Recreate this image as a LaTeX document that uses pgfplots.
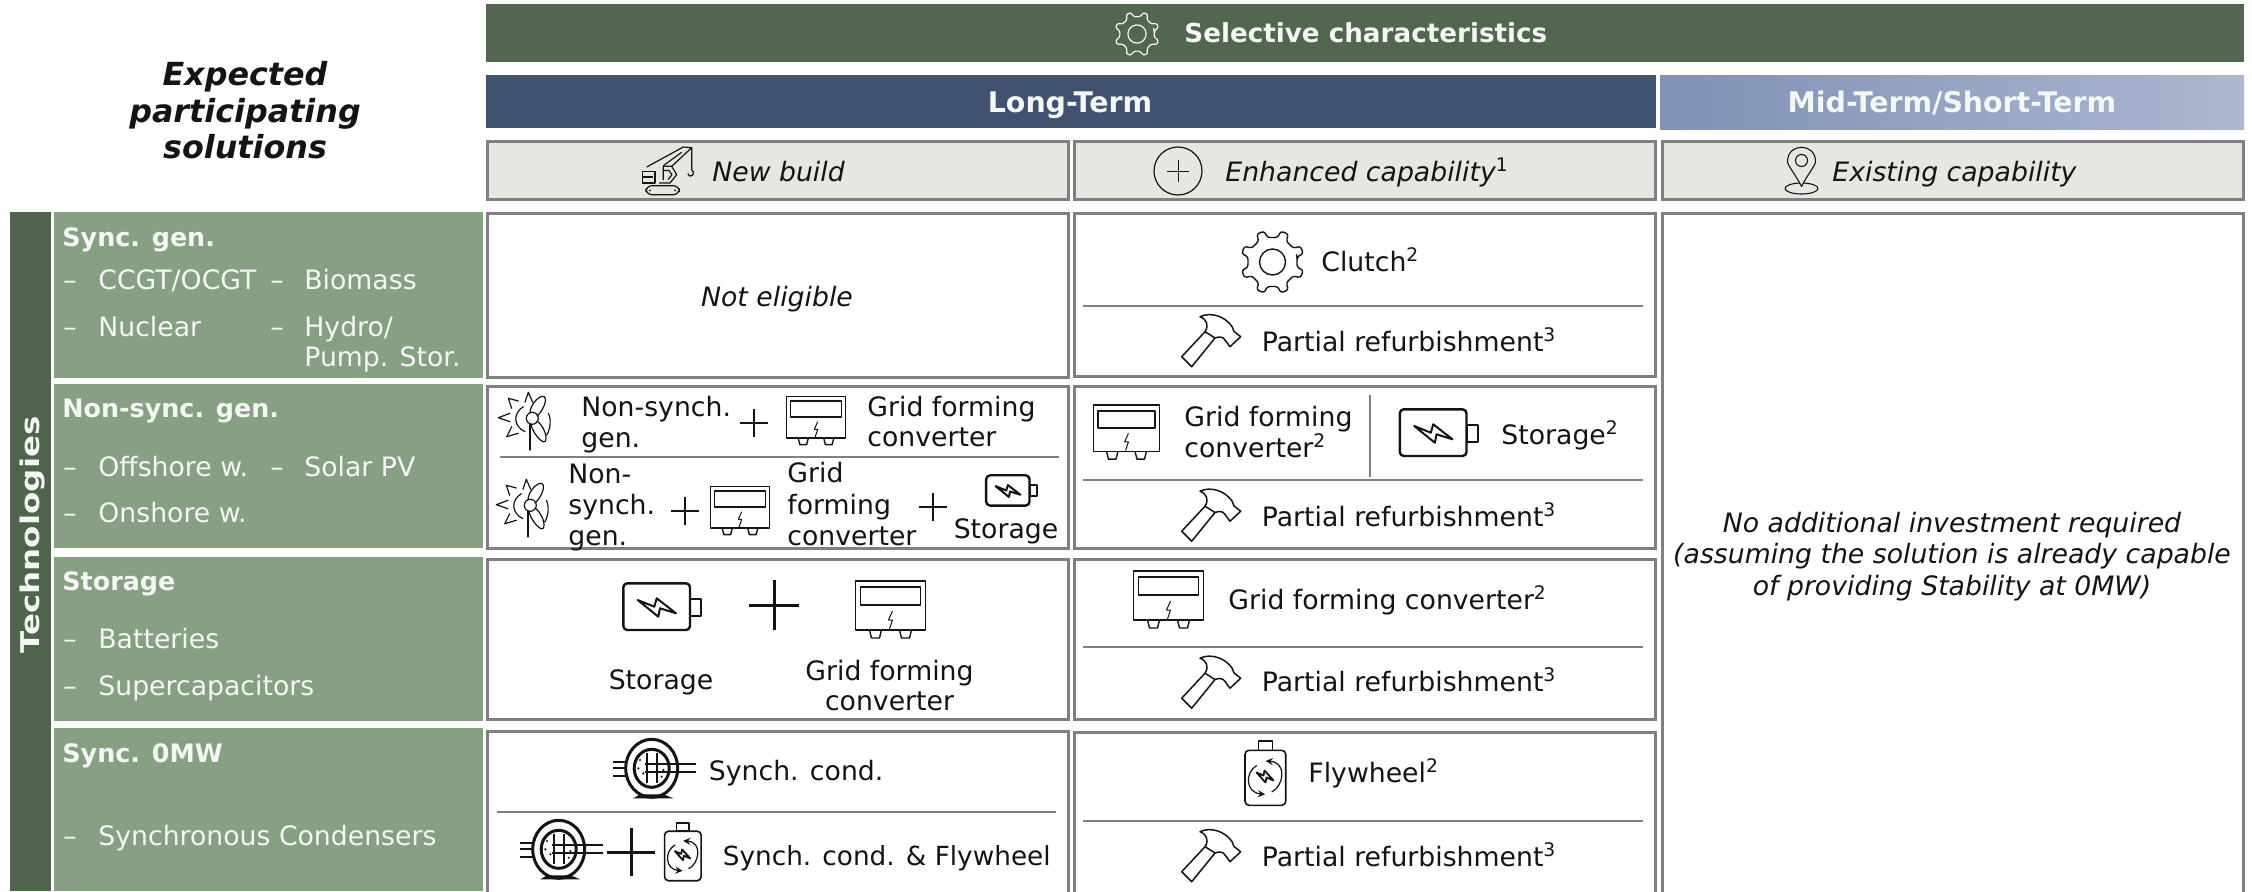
\documentclass[border=0pt]{standalone}
\usepackage{pgfplots}
\pgfplotsset{compat=1.18}
\usepackage{fontspec}
\setmainfont{DejaVu Sans}
\definecolor{hdr}{RGB}{83,102,80}
\definecolor{strip}{RGB}{80,99,77}
\definecolor{sage}{RGB}{135,160,132}
\definecolor{navy}{RGB}{65,82,112}
\definecolor{midL}{RGB}{128,145,182}
\definecolor{midR}{RGB}{172,183,208}
\definecolor{cream}{RGB}{232,230,224}
\definecolor{bord}{RGB}{128,128,128}
\definecolor{txt}{RGB}{20,20,20}
\definecolor{wtxt}{RGB}{245,247,245}
\newcommand{\fn}{\fontsize{13.35}{16}\selectfont}
\newcommand{\fb}{\fontsize{12.7}{15}\selectfont\bfseries}
\newcommand{\Panel}[5]{\addplot[fill=#5,draw=none,forget plot] coordinates {(#1,#2) (#3,#2) (#3,#4) (#1,#4)} -- cycle;}
\newcommand{\Cell}[5]{\addplot[fill=#5,draw=bord,line width=1.5pt,forget plot] coordinates {(#1+1.5,#2+1.5) (#3-1.5,#2+1.5) (#3-1.5,#4-1.5) (#1+1.5,#4-1.5)} -- cycle;}
\newcommand{\Rule}[4]{\addplot[draw=bord,line width=1pt,forget plot] coordinates {(#1,#2) (#3,#4)};}
\newcommand{\TL}[4][txt]{\node[anchor=mid west,yshift=-2pt,inner sep=0pt,text=#1,font=\fn] at (axis cs:#2,#3) {#4};}
\newcommand{\TC}[4][txt]{\node[anchor=mid,yshift=-2pt,inner sep=0pt,text=#1,font=\fn] at (axis cs:#2,#3) {#4};}
\newcommand{\su}[1]{\textsuperscript{#1}}
\tikzset{
  ic/.style={draw=txt,line width=.7pt,line join=round},
  pics/gfc/.style={code={
    \draw[ic] (-35,-28) rectangle (35,21);
    \draw[ic,line width=.9pt] (-30,-22) rectangle (30,-4);
    \draw[ic,line width=.5pt] (2,2) -- (-2,11) -- (2,11) -- (-1,20);
    \draw[ic] (-21,21) -- (-19,29) -- (-11,29) -- (-9,21);
    \draw[ic] (9,21) -- (11,29) -- (19,29) -- (21,21);
  }},
  pics/batt/.style={code={
    \draw[ic,line width=1.2pt,rounded corners=2pt] (-38.2,-24.2) rectangle (28.5,22.5);
    \draw[ic,line width=1pt] (28.5,-8.5) rectangle (39.5,8.2);
    \draw[ic,line width=1pt] (-23.8,-7.5) -- (-7.2,-.8) -- (-4.8,-9.2) -- (14.5,5.8) -- (-1.5,.8) -- (-3.2,9.2) -- cycle;
  }},
  pics/mill/.style={code={
    \begin{scope}[ic/.style={draw=txt,line width=.6pt,line join=round,line cap=round}]
    \draw[ic] (5,3.3) -- (5,29);
    \draw[ic] (5,-8) .. controls (5,-16) and (14,-26) .. (19,-24.5) .. controls (23,-22) and (18,-10) .. (12,-5);
    \draw[ic] (12,0) .. controls (19,5) and (23,17) .. (20,20.5) .. controls (17,23) and (7,11) .. (6,3);
    \draw[ic] (7.3,-2.7) circle (6);
    \draw[ic] (-1.7,-14.3) .. controls (-12,-8) and (-12,5) .. (0,10.7);
    \draw[ic] (0,-18.7) -- (3.3,-28.7) -- (7.7,-18.7);
    \draw[ic] (-13.3,-12.7) -- (-16.7,-22.7) -- (-6.7,-20);
    \draw[ic] (-15,-7.7) -- (-26.7,-3.3) -- (-15,.7);
    \draw[ic] (-13.3,5.7) -- (-18.3,15.7) -- (-6.7,12.3);
    \draw[ic] (23.3,-7.7) .. controls (26,-3) and (26,7) .. (21.7,14);
    \end{scope}
  }},
  pics/hammer/.style={code={
    \draw[ic,line width=.75pt] (-29.3,16.2) -- (-19.3,26.2) -- (4,-2.5) -- (-6,-8.8) -- cycle;
    \draw[ic,line width=.75pt] (-6,-8.8) .. controls (-2,-15) and (-4,-21) .. (-11,-23.8)
       .. controls (0,-29) and (14,-24) .. (21,-14) -- (23,-9) -- (29.7,-3.8) -- (19,6.2) -- (14,-.5)
       .. controls (12,-4) and (8,-4) .. (4,-2.5);
  }},
  pics/gear/.style={code={
    \draw[ic,rounded corners=1.2pt] (-11:25) \foreach \a in {22.5,67.5,...,337.5} {
       -- ({\a-11}:25) -- ({\a-7}:32) -- ({\a+7}:32) -- ({\a+11}:25) } -- cycle;
    \draw[ic] (0,0) circle (13);
  }},
  pics/motor/.style={code={
    \fill[txt] (-19.7,28.3) -- (-13,24.3) -- (10.3,24.3) -- (20.3,28.3) -- cycle;
    \draw[ic,line width=1.5pt] (-1.3,-1.7) ellipse (26 and 29);
    \draw[ic,line width=1.5pt] (-1.3,-1.7) ellipse (17.5 and 19);
    \foreach \p in {(-13,-10),(-14.7,-1.7),(-9.7,3.3),(13.7,-10),(10.3,0),(8.7,6.7)} \fill[txt] \p circle (1.2);
    \draw[ic,line width=.9pt] (-40.3,-8.3) -- (-26,-8.3) (-40.3,-1.7) -- (-26,-1.7) (-40.3,5.7) -- (-26,5.7);
    \draw[ic,line width=.9pt] (-6.3,-16.7) -- (-6.3,13.3) (3.7,-16.7) -- (3.7,13.3);
    \draw[ic,line width=.9pt] (-8,-5.7) -- (43,-5.7) (-8,1.7) -- (43,1.7);
  }},
  pics/fly/.style={code={
    \draw[ic,rounded corners=2pt,line width=.8pt] (-20.5,-24.2) rectangle (20.2,30.8);
    \draw[ic,line width=.8pt] (-7.2,-33.5) rectangle (6.8,-24.2);
    \draw[ic,line width=.6pt,->,>=stealth] (6.2,17.5) .. controls (18,12) and (22,-12) .. (.2,-13.5);
    \draw[ic,line width=.6pt,->,>=stealth] (-8.8,-9) .. controls (-21,-2) and (-20,18) .. (-.5,19.8);
    \draw[ic,line width=.9pt] (-9,-2) -- (-2,1) -- (-1,-4) -- (8,6) -- (1,3) -- (0,8) -- cycle;
  }},
  pics/crane/.style={code={
    \draw[ic,line width=.6pt,rounded corners=3pt] (-22,14.2) rectangle (11.3,23.2);
    \fill[txt] (-18,18.8) circle (1) (7,18.8) circle (1);
    \draw[ic,line width=.6pt] (-13,-.2) -- (-25.3,-.2) -- (-25.3,11.5) -- (-13,11.5) -- (-13,-.2) (-25.3,5.5) -- (-15,5.5);
    \draw[ic,line width=.6pt] (-9,11.5) -- (2,11.5) -- (8.7,3.2) -- (3.7,-5.2) -- (-4.7,-5.2) -- (-4.7,8.5) (-4.7,-1) -- (1,-1) -- (4,3.2) -- (0,8);
    \draw[ic,line width=.6pt] (-21.3,-4.5) -- (15.3,-24.5) -- (23.7,-23.8) -- (3.7,-5.2);
    \draw[ic,line width=.6pt] (-4.7,-5.8) -- (13.7,-19.2);
    \draw[ic,line width=.6pt] (23.7,-23.8) -- (23.7,-1.8) .. controls (27,1) and (25,5) .. (22,4.5) .. controls (20,4) and (20,2.5) .. (20.3,2);
  }},
  pics/pin/.style={code={
    \draw[ic,line width=.55pt] (0,17) ellipse (16.5 and 5.5);
    \draw[ic,line width=.55pt,fill=cream] (0,15) .. controls (-6,3) and (-14,-6) .. (-14,-10) .. controls (-14,-29) and (14,-29) .. (14,-10) .. controls (14,-6) and (6,3) .. cycle;
    \draw[ic,line width=.55pt] (0,-11) circle (6);
  }},
}
\newcommand{\Plus}[4]{\draw[txt,line width=#4] (#1-#3,#2) -- (#1+#3,#2) (#1,#2-#3) -- (#1,#2+#3);}
\begin{document}
\begin{tikzpicture}
\begin{axis}[hide axis,scale only axis,width=1126pt,height=445.5pt,
  xmin=0,xmax=2252,ymin=0,ymax=891,y dir=reverse,enlargelimits=false]
% header bands
\Panel{486}{4}{2244}{62}{hdr}
\Panel{486}{75}{1656}{128}{navy}
\addplot[left color=midL,right color=midR,draw=none,forget plot] coordinates {(1660,75) (2244,75) (2244,129) (1660,129)} -- cycle;
\Cell{486}{140}{1070}{201}{cream}
\Cell{1073}{140}{1657}{201}{cream}
\Cell{1661}{140}{2245}{201}{cream}
% row heads
\Panel{10}{212}{50.5}{891}{strip}
\Panel{54}{212}{483}{378}{sage}
\Panel{54}{384}{483}{548}{sage}
\Panel{54}{557}{483}{721}{sage}
\Panel{54}{728}{483}{891}{sage}
% cells
\Cell{486}{212}{1070}{379}{white}
\Cell{486}{385}{1070}{550}{white}
\Cell{486}{558}{1070}{721}{white}
\Cell{486}{730}{1070}{900}{white}
\Cell{1073}{212}{1657}{378}{white}
\Cell{1073}{385}{1657}{550}{white}
\Cell{1073}{558}{1657}{721}{white}
\Cell{1073}{731}{1657}{900}{white}
\Cell{1661}{212}{2245}{900}{white}
% dividers
\Rule{1083}{306}{1642.5}{306}
\Rule{1083}{480}{1642.5}{480}
\Rule{1083}{647}{1642.5}{647}
\Rule{1083}{821}{1642.5}{821}
\Rule{500}{457}{1059}{457}
\Rule{497}{812}{1056}{812}
\Rule{1370}{395}{1370}{477}
% headings
\node[anchor=mid,yshift=-2.5pt,inner sep=0pt,text=txt,font=\fontsize{15.9}{19}\selectfont\bfseries\itshape] at (axis cs:245,75) {Expected};
\node[anchor=mid,yshift=-2.5pt,inner sep=0pt,text=txt,font=\fontsize{15.9}{19}\selectfont\bfseries\itshape] at (axis cs:245,112) {participating};
\node[anchor=mid,yshift=-2.5pt,inner sep=0pt,text=txt,font=\fontsize{15.9}{19}\selectfont\bfseries\itshape] at (axis cs:245,148) {solutions};
\node[anchor=mid west,yshift=-2pt,inner sep=0pt,text=wtxt,font=\fontsize{13.1}{16}\selectfont\bfseries] at (axis cs:1184,33) {Selective characteristics};
\node[anchor=mid,yshift=-2pt,inner sep=0pt,text=wtxt,font=\fontsize{14.2}{17}\selectfont\bfseries] at (axis cs:1070,103) {Long-Term};
\node[anchor=mid,yshift=-2pt,inner sep=0pt,text=wtxt,font=\fontsize{14.2}{17}\selectfont\bfseries] at (axis cs:1952,103) {Mid-Term/Short-Term};
\TL{712}{172}{\itshape New build}
\TL{1225}{172}{\itshape Enhanced capability\su{\upshape 1}}
\TL{1832}{172}{\itshape Existing capability}
\node[anchor=center,inner sep=0pt,text=wtxt,rotate=90,font=\fontsize{12.9}{15}\selectfont\bfseries] at (axis cs:32,535) {\scalebox{1.26}[1]{Technologies}};
% row heads text
\TL[wtxt]{62}{237}{\fb Sync. gen.}
\TL[wtxt]{63}{280}{–} \TL[wtxt]{98}{280}{CCGT/OCGT}
\TL[wtxt]{270}{280}{–} \TL[wtxt]{304}{280}{Biomass}
\TL[wtxt]{63}{327}{–} \TL[wtxt]{98}{327}{Nuclear}
\TL[wtxt]{270}{327}{–} \TL[wtxt]{304}{327}{Hydro/}
\TL[wtxt]{304}{357}{Pump. Stor.}
\TL[wtxt]{62}{408}{\fb Non-sync. gen.}
\TL[wtxt]{63}{467}{–} \TL[wtxt]{98}{467}{Offshore w.}
\TL[wtxt]{270}{467}{–} \TL[wtxt]{304}{467}{Solar PV}
\TL[wtxt]{63}{513}{–} \TL[wtxt]{98}{513}{Onshore w.}
\TL[wtxt]{62}{581}{\fb Storage}
\TL[wtxt]{63}{639}{–} \TL[wtxt]{98}{639}{Batteries}
\TL[wtxt]{63}{686}{–} \TL[wtxt]{98}{686}{Supercapacitors}
\TL[wtxt]{62}{753}{\fb Sync. 0MW}
\TL[wtxt]{63}{836}{–} \TL[wtxt]{98}{836}{Synchronous Condensers}
% column 1
\TC{777}{297}{\itshape Not eligible}
\TL{581}{407}{Non-synch.} \TL{581}{438}{gen.}
\TL{867}{407}{Grid forming} \TL{867}{437}{converter}
\TL{568}{474}{Non-} \TL{568}{505}{synch.} \TL{568}{536}{gen.}
\TL{787}{473}{Grid} \TL{787}{505}{forming} \TL{787}{536}{converter}
\TC{1006}{529}{Storage}
\TC{661}{680}{Storage}
\TC{889.5}{671}{Grid forming} \TC{889.5}{701}{converter}
\TL{708.5}{771}{Synch. cond.}
\TL{722.5}{856}{\fontsize{13.15}{16}\selectfont Synch. cond. \& Flywheel}
% column 2
\TL{1321}{262}{Clutch\su{2}}
\TL{1261.5}{342}{Partial refurbishment\su{3}}
\TL{1184}{417}{Grid forming} \TL{1184}{448}{converter\su{2}}
\TL{1501}{435}{Storage\su{2}}
\TL{1261.5}{517}{Partial refurbishment\su{3}}
\TL{1228}{600}{Grid forming converter\su{2}}
\TL{1261.5}{682}{Partial refurbishment\su{3}}
\TL{1308}{773}{Flywheel\su{2}}
\TL{1261.5}{857}{Partial refurbishment\su{3}}
% column 3
\TC{1952}{523}{\itshape No additional investment required}
\TC{1952}{554}{\itshape (assuming the solution is already capable}
\TC{1952}{586}{\itshape of providing Stability at 0MW)}
\end{axis}
% icons, in reference pixels from the top left corner
\begin{scope}[shift={(0pt,445.5pt)},x=.5pt,y=-.5pt]
\begin{scope}[ic/.style={draw=wtxt,line width=.6pt,line join=round}]
\pic[scale=.7] at (1137,34) {gear};
\end{scope}
\pic at (668,171.5) {crane};
\draw[ic,line width=.6pt] (1178,171) circle (24);
\Plus{1178}{171}{11}{.5pt}
\pic at (1801.5,171.5) {pin};
\pic at (525,421) {mill};
\pic[scale=.85] at (816,420) {gfc};
\Plus{754}{423}{14}{.7pt}
\pic at (523,508) {mill};
\Plus{685}{511}{14}{.7pt}
\pic[scale=.85] at (740,510) {gfc};
\Plus{933}{507}{14}{.7pt}
\pic[scale=.65] at (1011,491) {batt};
\pic at (661.5,607.5) {batt};
\Plus{774}{605}{25}{1.5pt}
\pic at (890.5,609) {gfc};
\pic at (653,770) {motor};
\pic at (560,851) {motor};
\Plus{631}{852}{24}{1.5pt}
\pic[scale=.9] at (683,853) {fly};
\pic at (1272.5,262) {gear};
\pic at (1211,340.5) {hammer};
\pic[scale=.95] at (1126.5,431.5) {gfc};
\pic at (1438,433.5) {batt};
\pic at (1211,515) {hammer};
\pic at (1168.5,599) {gfc};
\pic at (1211,682) {hammer};
\pic at (1265.5,774.5) {fly};
\pic at (1211,855.5) {hammer};
\end{scope}
\pgfresetboundingbox
\path (0,0) rectangle (1126pt,445.5pt);
\end{tikzpicture}
\end{document}
